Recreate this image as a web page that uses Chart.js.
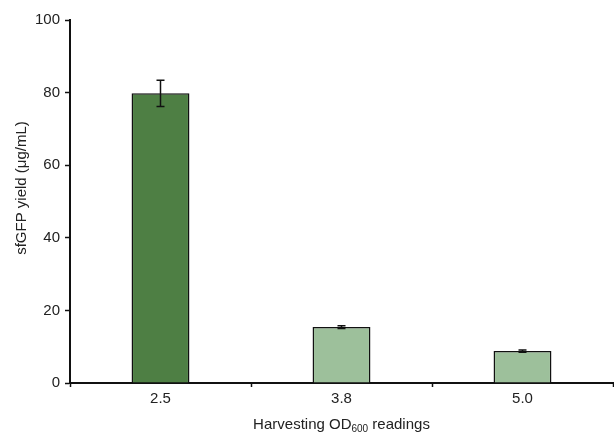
<!DOCTYPE html>
<html>
<head>
<meta charset="utf-8">
<script src="https://cdn.jsdelivr.net/npm/chart.js@4/dist/chart.umd.min.js"></script>
<style>
  html, body { margin: 0; padding: 0; background: #fff; }
  #wrap { width: 614px; height: 434px; }
</style>
</head>
<body>
<div id="wrap"><canvas id="c" width="614" height="434"></canvas></div>
<script>
// Harvest OD600 conditions and the sfGFP yield measured at each
const categories = ['2.5', '3.8', '5.0'];
const yieldValues = [79.8, 15.4, 8.8];
const yieldErrors = [3.6, 0.4, 0.3];
const barColors = ['#4e7f44', '#9dc09b', '#9dc09b'];
const yTicks = [0, 20, 40, 60, 80, 100];
const yTitle = 'sfGFP yield (μg/mL)';

const FONT = 'Liberation Sans, Arial, sans-serif';

// Error bars drawn through the y scale
const errorBars = {
  id: 'errorBars',
  afterDatasetsDraw(chart) {
    const { ctx, scales: { y } } = chart;
    const meta = chart.getDatasetMeta(0);
    ctx.save();
    ctx.strokeStyle = '#111';
    ctx.lineWidth = 1.5;
    meta.data.forEach((bar, i) => {
      const cx = bar.x;
      const top = y.getPixelForValue(yieldValues[i] + yieldErrors[i]);
      const bot = y.getPixelForValue(yieldValues[i] - yieldErrors[i]);
      const cap = 4;
      ctx.beginPath();
      ctx.moveTo(cx, top); ctx.lineTo(cx, bot);
      ctx.moveTo(cx - cap, top); ctx.lineTo(cx + cap, top);
      ctx.moveTo(cx - cap, bot); ctx.lineTo(cx + cap, bot);
      ctx.stroke();
    });
    ctx.restore();
  }
};

// Axis titles: x title with a subscripted "600", rotated y title
const axisTitles = {
  id: 'axisTitles',
  afterDraw(chart) {
    const { ctx, chartArea } = chart;
    const parts = [
      { t: 'Harvesting OD', size: 15, dy: 0 },
      { t: '600', size: 10, dy: 3 },
      { t: ' readings', size: 15, dy: 0 }
    ];
    ctx.save();
    ctx.fillStyle = '#222';
    ctx.textBaseline = 'alphabetic';
    let total = 0;
    parts.forEach(p => { ctx.font = p.size + 'px ' + FONT; p.w = ctx.measureText(p.t).width; total += p.w; });
    let xPos = (chartArea.left + chartArea.right) / 2 - total / 2;
    const base = 429;
    parts.forEach(p => {
      ctx.font = p.size + 'px ' + FONT;
      ctx.fillText(p.t, xPos, base + p.dy);
      xPos += p.w;
    });

    ctx.translate(22, 188);
    ctx.rotate(-Math.PI / 2);
    ctx.font = '15px ' + FONT;
    ctx.textAlign = 'center';
    ctx.textBaseline = 'middle';
    ctx.fillText(yTitle, 0, 0);
    ctx.restore();
  }
};

new Chart(document.getElementById('c'), {
  type: 'bar',
  data: {
    labels: categories,
    datasets: [{
      data: yieldValues,
      backgroundColor: barColors,
      borderColor: '#111',
      borderWidth: 1.5,
      borderSkipped: 'bottom',
      categoryPercentage: 1,
      barPercentage: 0.32
    }]
  },
  options: {
    responsive: false,
    animation: false,
    layout: { padding: { top: 20, right: 1, left: 0, bottom: 0 } },
    plugins: { legend: { display: false }, tooltip: { enabled: false } },
    scales: {
      x: {
        afterFit(s) { s.height = 51; },
        border: { color: '#111', width: 2 },
        grid: { offset: true, drawOnChartArea: false, color: '#111', tickLength: 4, tickWidth: 1.5 },
        ticks: { color: '#222', font: { family: FONT, size: 15 }, padding: 3 }
      },
      y: {
        min: 0, max: 100,
        afterFit(s) { s.width = 70; },
        afterBuildTicks(s) { s.ticks = yTicks.map(v => ({ value: v })); },
        border: { color: '#111', width: 2 },
        grid: { drawOnChartArea: false, color: '#111', tickLength: 5, tickWidth: 1.5 },
        ticks: { color: '#222', font: { family: FONT, size: 15 }, padding: 5 }
      }
    }
  },
  plugins: [errorBars, axisTitles]
});
</script>
</body>
</html>
